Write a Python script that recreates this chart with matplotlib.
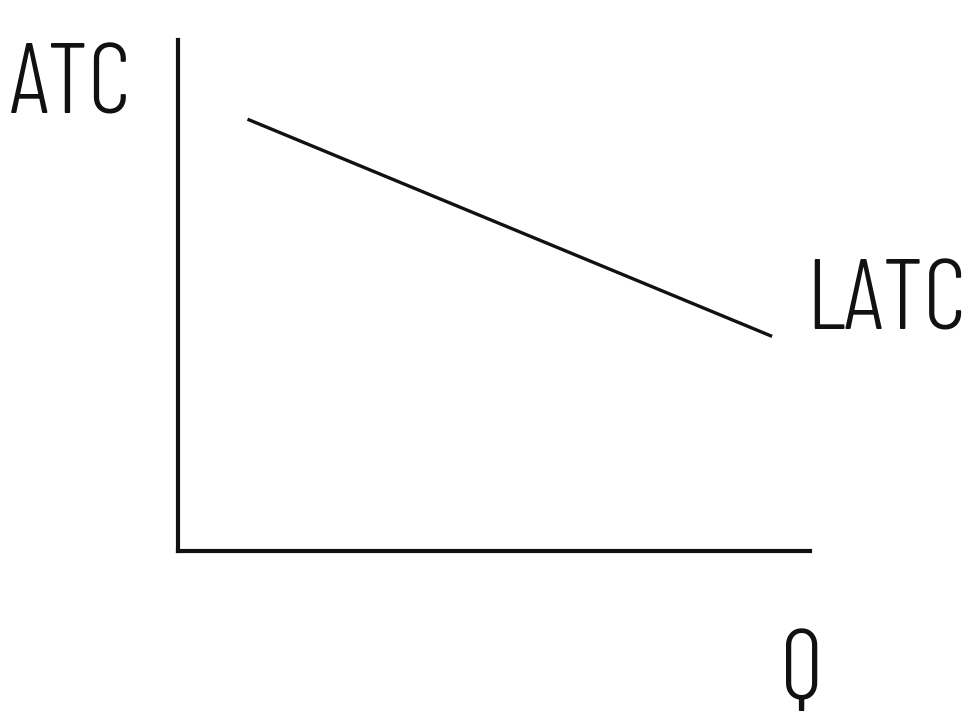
import matplotlib
matplotlib.use("Agg")
import matplotlib.pyplot as plt
from matplotlib import font_manager

# Data
q_values = [1.1, 9.4]
latc_values = [8.45, 4.2]
y_label = "ATC"
x_label = "Q"
curve_label = "LATC"

names = {f.name for f in font_manager.fontManager.ttflist}
fam = ["Barlow Condensed", "Sofia Sans Condensed", "Archivo Narrow", "Liberation Sans", "DejaVu Sans"]
fam = [f for f in fam if f in names] or ["DejaVu Sans"]

W, H = 968, 717
fig = plt.figure(figsize=(W/100, H/100), dpi=100)
ax = fig.add_axes([178/W, (H-551)/H, (810-178)/W, (551-40)/H])
ax.set_xlim(0, 10)
ax.set_ylim(0, 10)
ax.plot(q_values, latc_values, color="#111111", lw=2.4, solid_capstyle="butt")
for s in ["top", "right"]:
    ax.spines[s].set_visible(False)
for s in ["left", "bottom"]:
    ax.spines[s].set_linewidth(3.0)
    ax.spines[s].set_color("#111111")
ax.set_xticks([])
ax.set_yticks([])

kw = dict(family=fam, fontsize=71, fontweight=300, va="baseline", ha="left", color="#111111")
fig.text(10/W, 1 - 114/H, y_label, **kw)
fig.text(806/W, 1 - 330/H, curve_label, **kw)
fig.text(780/W, 1 - 699/H, x_label, **kw)

fig.savefig("out.png", dpi=100, facecolor="white")
